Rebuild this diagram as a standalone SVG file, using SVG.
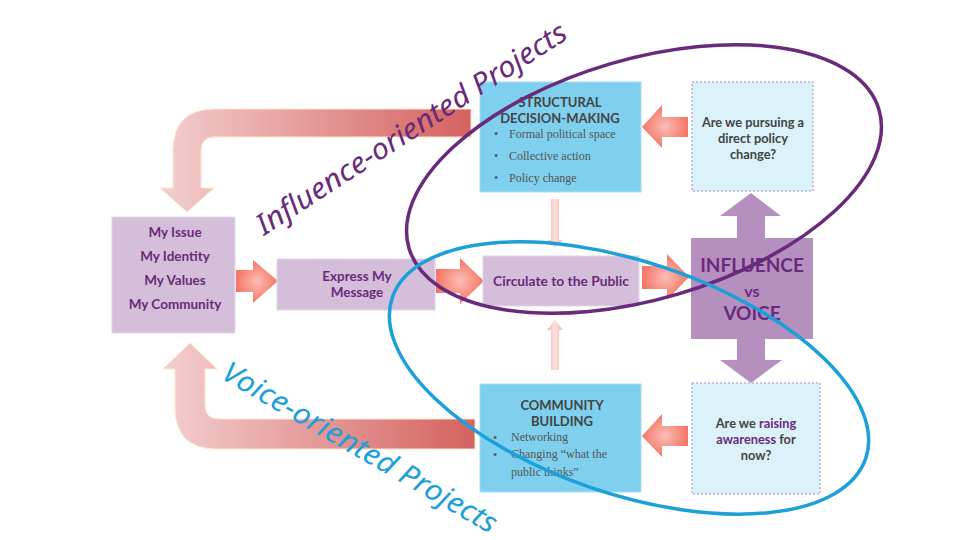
<svg xmlns="http://www.w3.org/2000/svg" width="960" height="540" viewBox="0 0 960 540">
<defs>
<linearGradient id="bandTop" gradientUnits="userSpaceOnUse" x1="160" y1="0" x2="471" y2="0"><stop offset="0" stop-color="#f3cfcf"/><stop offset="1" stop-color="#d5625f"/></linearGradient>
<linearGradient id="bandBot" gradientUnits="userSpaceOnUse" x1="163" y1="0" x2="475" y2="0"><stop offset="0" stop-color="#f3cfcf"/><stop offset="1" stop-color="#d5625f"/></linearGradient>
<radialGradient id="salmon"><stop offset="0" stop-color="#fbbdb5"/><stop offset="1" stop-color="#f47665"/></radialGradient>
<linearGradient id="pale" x1="0" y1="0" x2="1" y2="0"><stop offset="0" stop-color="#f7b3ac"/><stop offset="0.5" stop-color="#fde0dc"/><stop offset="1" stop-color="#f7b3ac"/></linearGradient>
<style>
.lilac{fill:#d4bed9;stroke:#e4d6e8;stroke-width:1}
.blue{fill:#7fcfee;stroke:#a8def3;stroke-width:1}
.q{fill:#dcf2fb;stroke:#a38bc2;stroke-width:1;stroke-dasharray:2 2}
.pt{font-family:Lato,"Liberation Sans",sans-serif;font-weight:bold;fill:#6a2a7c;text-anchor:middle}
.hd{font-family:Lato,"Liberation Sans",sans-serif;font-weight:bold;fill:#444;font-size:13px;text-anchor:middle}
.bl{font-family:"Liberation Serif","DejaVu Serif",serif;fill:#555;font-size:12px}
.qt{font-family:Lato,"Liberation Sans",sans-serif;font-weight:bold;fill:#444;font-size:12.8px;text-anchor:middle}
.sal{fill:url(#salmon)}
.band{stroke:#fde6cc;stroke-width:1}
.big{fill:#b590bf}
.hand{font-family:"Noto Sans","DejaVu Sans",sans-serif;font-style:italic}
</style>
</defs>
<rect width="960" height="540" fill="#ffffff"/>

<g id="connectors">
<path class="band" fill="url(#bandTop)" d="M471,109 L215,109 Q173,109 173,151 L173,188 L160,188 L187,212 L214,188 L201,188 L201,151 Q201,137 215,137 L471,137 Z"/>
<path class="band" fill="url(#bandBot)" d="M190,343 L217,369 L205,369 L205,405 Q205,419 219,419 L475,419 L475,449 L217,449 Q175,449 175,407 L175,369 L163,369 Z"/>
<path class="sal" d="M236,270 L253,270 L253,260 L278,281 L253,303 L253,292 L236,292 Z"/>
<path class="sal" d="M436,269 L460,269 L460,258 L484,281 L460,304 L460,293 L436,293 Z"/>
<path class="sal" d="M642,266 L667,266 L667,254 L689,277 L667,300 L667,289 L642,289 Z"/>
<path class="sal" d="M688,117 L662,117 L662,105 L642,127 L662,148 L662,137 L688,137 Z"/>
<path class="sal" d="M688,426 L662,426 L662,414 L642,436 L662,457 L662,446 L688,446 Z"/>
<path fill="url(#pale)" d="M551,199 L559,199 L559,240 L562,240 L555,248 L548,240 L551,240 Z"/>
<path fill="url(#pale)" d="M555,320 L563,330 L559,330 L559,370 L551,370 L551,330 L547,330 Z"/>
<path class="big" d="M737,238 L765,238 L765,216 L781,216 L751,193 L720,216 L737,216 Z"/>
<path class="big" d="M737,339 L765,339 L765,360 L782,360 L751,383 L720,360 L737,360 Z"/>
</g>

<g id="my-issue">
<rect class="lilac" x="112" y="217" width="123" height="116"/>
<text class="pt" font-size="13.5" x="175" y="237">My Issue</text>
<text class="pt" font-size="13.5" x="175" y="261">My Identity</text>
<text class="pt" font-size="13.5" x="175" y="285">My Values</text>
<text class="pt" font-size="13.5" x="175" y="309">My Community</text>
</g>

<g id="express">
<rect class="lilac" x="277" y="259" width="158" height="51"/>
<text class="pt" font-size="13.5" x="357" y="281">Express My</text>
<text class="pt" font-size="13.5" x="357" y="297">Message</text>
</g>

<g id="circulate">
<rect class="lilac" x="483" y="256" width="156" height="50"/>
<text class="pt" font-size="13.8" x="561" y="286">Circulate to the Public</text>
</g>

<g id="influence-vs-voice">
<rect class="big" x="691" y="238" width="122" height="101"/>
<text class="pt" font-size="19" x="752" y="272">INFLUENCE</text>
<text class="pt" font-size="16" x="752" y="297">vs</text>
<text class="pt" font-size="19" x="752" y="320">VOICE</text>
</g>

<g id="structural">
<rect class="blue" x="480" y="82" width="161" height="110"/>
<text class="hd" x="560" y="107">STRUCTURAL</text>
<text class="hd" x="560" y="123">DECISION-MAKING</text>
<text class="bl" x="494" y="138">•</text><text class="bl" x="509" y="138">Formal political space</text>
<text class="bl" x="494" y="160">•</text><text class="bl" x="509" y="160">Collective action</text>
<text class="bl" x="494" y="182">•</text><text class="bl" x="509" y="182">Policy change</text>
</g>

<g id="community">
<rect class="blue" x="480" y="384" width="161" height="108"/>
<text class="hd" x="562" y="410">COMMUNITY</text>
<text class="hd" x="562" y="426">BUILDING</text>
<text class="bl" x="493" y="442" font-size="15">•</text><text class="bl" x="511" y="441">Networking</text>
<text class="bl" x="493" y="459" font-size="15">•</text><text class="bl" x="511" y="458">Changing “what the</text>
<text class="bl" x="511" y="476">public thinks”</text>
</g>

<g id="q-policy">
<rect class="q" x="692" y="82" width="121" height="109"/>
<text class="qt" x="753" y="127">Are we pursuing a</text>
<text class="qt" x="753" y="143">direct policy</text>
<text class="qt" x="753" y="159">change?</text>
</g>

<g id="q-awareness">
<rect class="q" x="692" y="383" width="128" height="111"/>
<text class="qt" x="756" y="428">Are we <tspan fill="#6a2a7c">raising</tspan></text>
<text class="qt" x="756" y="444"><tspan fill="#6a2a7c">awareness</tspan> for</text>
<text class="qt" x="756" y="460">now?</text>
</g>

<g id="influence-oriented">
<ellipse cx="644" cy="179" rx="245" ry="120" transform="rotate(-16.4 644 179)" fill="none" stroke="#6a2a7c" stroke-width="3.5"/>
<text class="hand" fill="#6a2a7c" font-size="29" transform="translate(264,236) rotate(-33)" textLength="364" lengthAdjust="spacingAndGlyphs">Influence-oriented Projects</text>
</g>

<g id="voice-oriented">
<ellipse cx="629" cy="378" rx="250" ry="116" transform="rotate(18.75 629 378)" fill="none" stroke="#1ba0da" stroke-width="3.5"/>
<text class="hand" fill="#1ba0da" font-size="29" transform="translate(220,378) rotate(30)" textLength="312" lengthAdjust="spacingAndGlyphs">Voice-oriented Projects</text>
</g>
</svg>
